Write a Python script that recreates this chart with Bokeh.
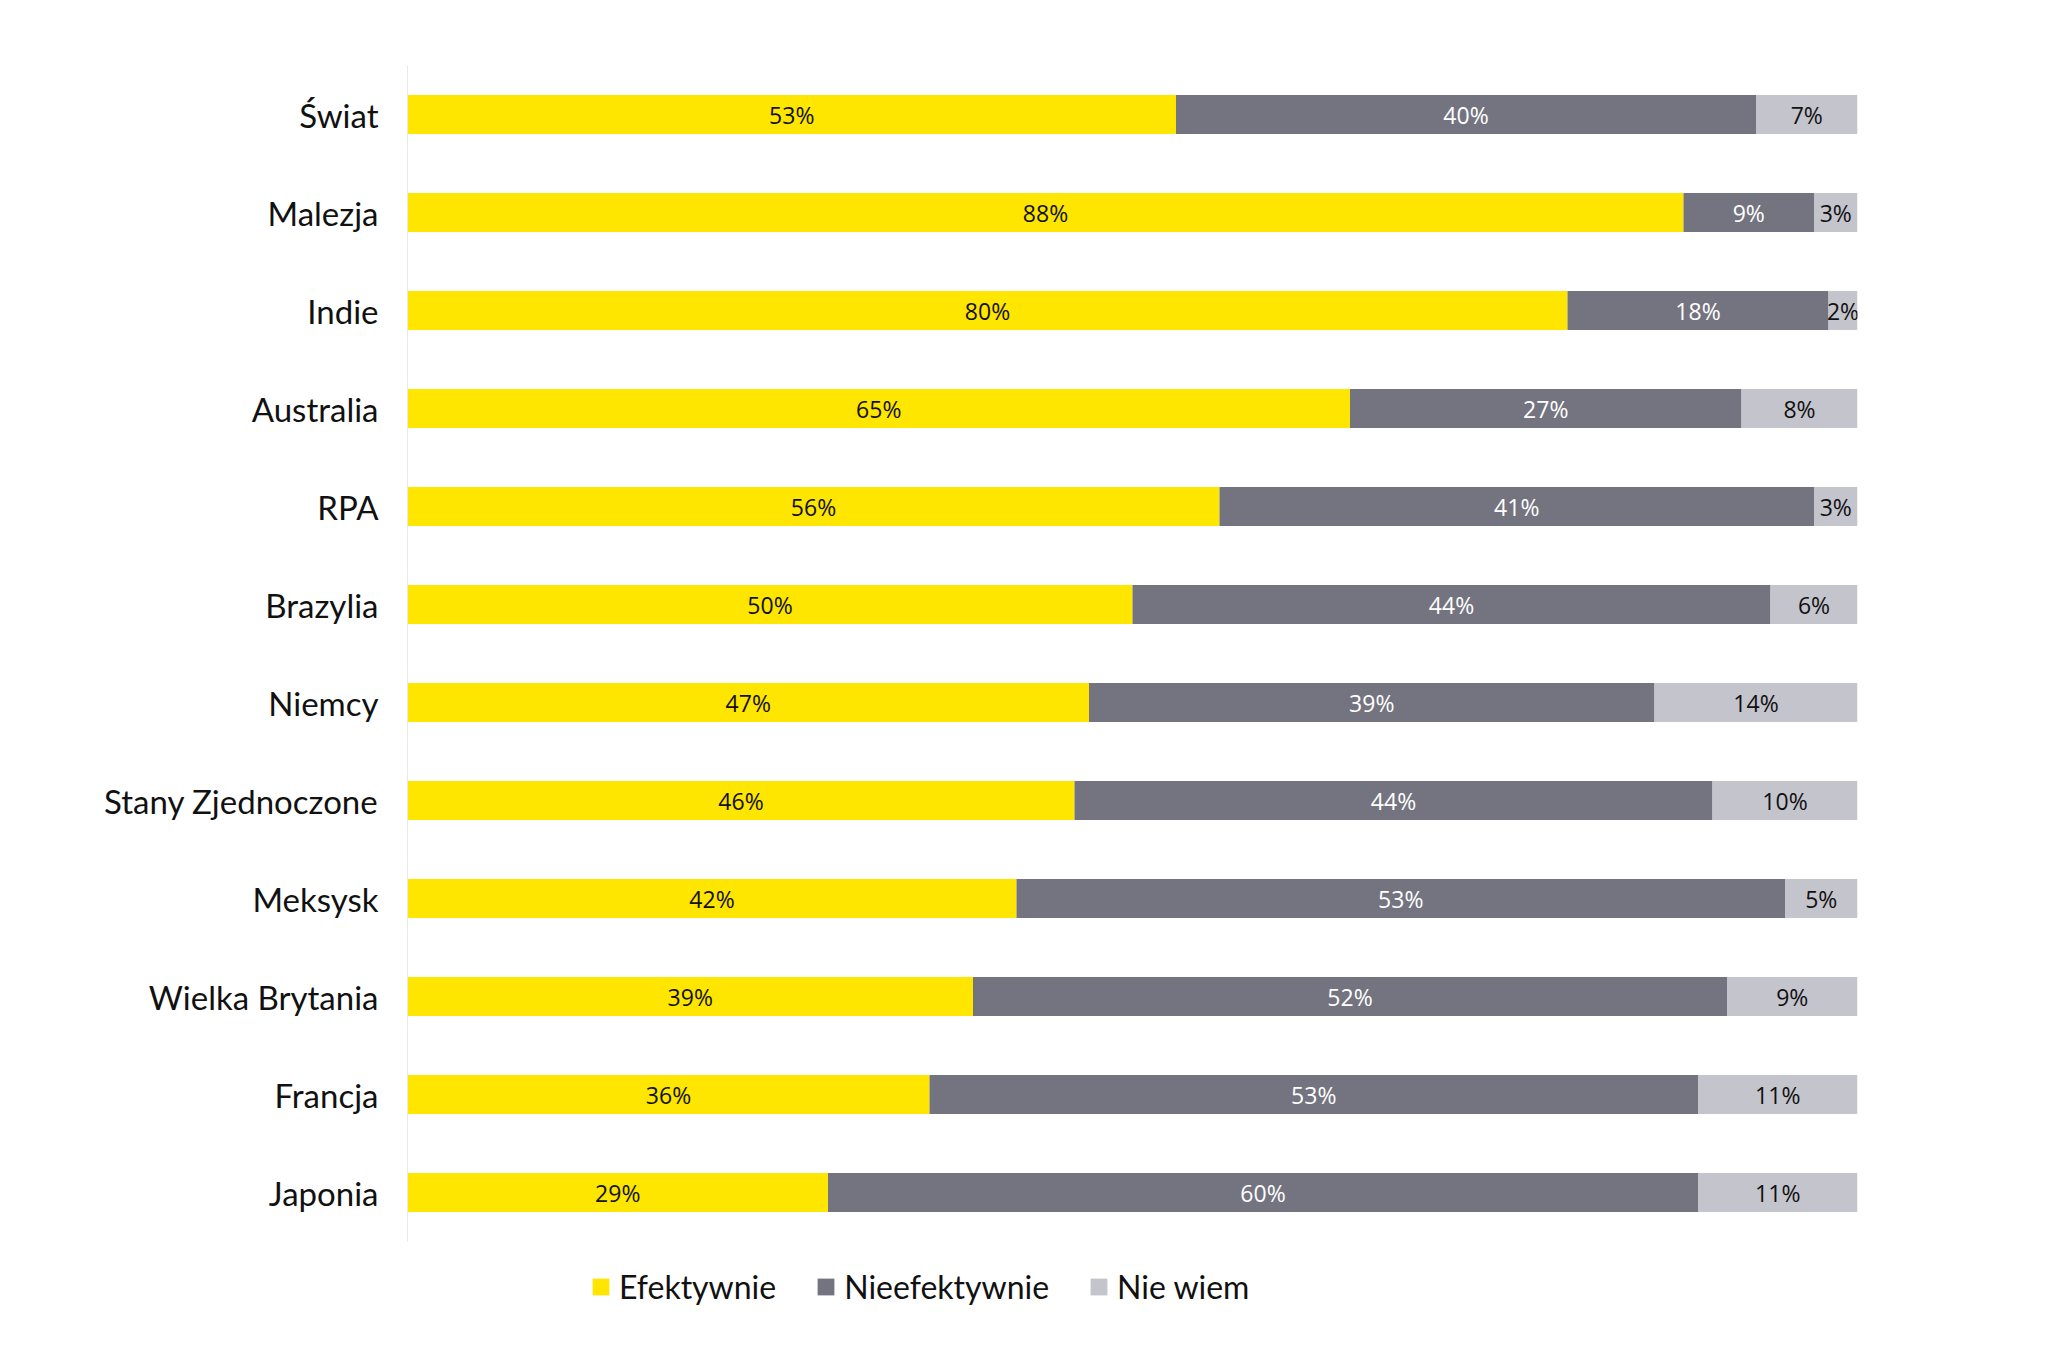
from bokeh.plotting import figure
from bokeh.models import ColumnDataSource, Range1d, Legend, LegendItem, FixedTicker
from bokeh.core.properties import value
from bokeh.embed import file_html
from bokeh.resources import INLINE

categories = ["Świat", "Malezja", "Indie", "Australia", "RPA", "Brazylia", "Niemcy",
              "Stany Zjednoczone", "Meksysk", "Wielka Brytania", "Francja", "Japonia"]
efektywnie = [53, 88, 80, 65, 56, 50, 47, 46, 42, 39, 36, 29]
nieefektywnie = [40, 9, 18, 27, 41, 44, 39, 44, 53, 52, 53, 60]
nie_wiem = [7, 3, 2, 8, 3, 6, 14, 10, 5, 9, 11, 11]
series_names = ["Efektywnie", "Nieefektywnie", "Nie wiem"]
colors = ["#FFE600", "#747480", "#C4C4CD"]
label_colors = ["#111111", "#FFFFFF", "#111111"]

n = len(categories)
ypos = [n - i - 0.5 for i in range(n)]

source = ColumnDataSource(dict(y=ypos, cat=categories, ef=efektywnie, nie=nieefektywnie, nw=nie_wiem))

p = figure(width=2032, height=1350, output_backend="svg", toolbar_location=None,
           y_range=Range1d(-1.0, n), x_range=Range1d(0, 100),
           min_border_left=407, min_border_right=175, min_border_top=65, min_border_bottom=11)
p.outline_line_color = None
p.xgrid.visible = False
p.ygrid.visible = False
p.xaxis.visible = False
p.yaxis.bounds = (0, n)
p.yaxis.ticker = FixedTicker(ticks=ypos)
p.yaxis.major_label_overrides = {y: c for y, c in zip(ypos, categories)}
p.yaxis.axis_line_color = "#E8E8E8"
p.yaxis.axis_line_width = 1
p.yaxis.major_tick_line_color = None
p.yaxis.minor_tick_line_color = None
p.yaxis.major_tick_out = 0
p.yaxis.major_tick_in = 0
p.yaxis.major_label_standoff = 29
p.yaxis.major_label_text_font = "Lato"
p.yaxis.major_label_text_font_size = "33px"
p.yaxis.major_label_text_color = "#111111"

renderers = p.hbar_stack(["ef", "nie", "nw"], y="y", height=0.4, color=colors,
                         line_color=None, source=source)

series = [efektywnie, nieefektywnie, nie_wiem]
xs, ys, txt, tcol = [], [], [], []
for i in range(n):
    start = 0
    for k in range(3):
        v = series[k][i]
        xs.append(start + v / 2)
        ys.append(ypos[i])
        txt.append(f"{v}%")
        tcol.append(label_colors[k])
        start += v
lsrc = ColumnDataSource(dict(x=xs, y=ys, t=txt, c=tcol))
p.text(x="x", y="y", text="t", text_color="c", source=lsrc, text_align="center",
       text_baseline="middle", text_font=value("Open Sans"), text_font_size="23px")

legend = Legend(items=[LegendItem(label=series_names[k], renderers=[renderers[k]]) for k in range(3)],
                orientation="horizontal", location=(183, 33),
                glyph_width=21, glyph_height=21, label_standoff=8, spacing=39,
                padding=0, margin=0, border_line_alpha=0, background_fill_alpha=0,
                label_text_font="Lato", label_text_font_size="32px", label_text_color="#111111")
p.add_layout(legend, "center")

open("out.html", "w").write(file_html(p, INLINE))
